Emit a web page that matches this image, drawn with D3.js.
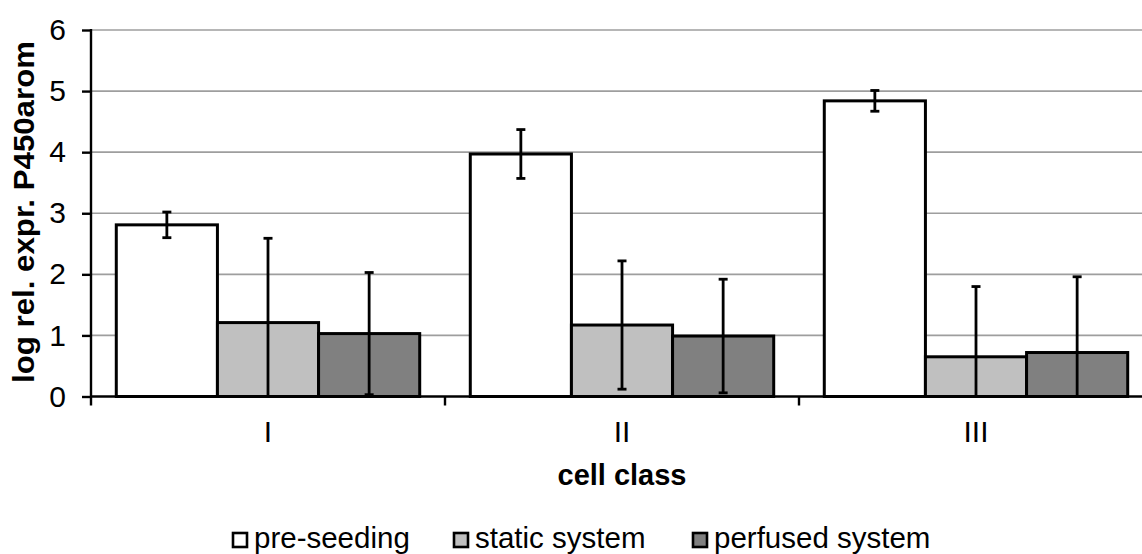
<!DOCTYPE html>
<html>
<head>
<meta charset="utf-8">
<script src="https://cdn.jsdelivr.net/npm/d3@7"></script>
<style>
  html, body { margin: 0; padding: 0; background: #fff; }
  svg { display: block; font-family: "Liberation Sans", Arial, sans-serif; }
</style>
</head>
<body>
<svg id="chart" width="1142" height="554"></svg>
<script>
const categories = ["I", "II", "III"];
const seriesNames = ["pre-seeding", "static system", "perfused system"];
const preSeeding = [2.81, 3.97, 4.84];
const preSeedingErr = [0.21, 0.40, 0.17];
const staticSystem = [1.21, 1.17, 0.65];
const staticSystemErr = [1.38, 1.05, 1.15];
const perfusedSystem = [1.03, 0.99, 0.72];
const perfusedSystemErr = [1.00, 0.93, 1.24];
const yTicks = [0, 1, 2, 3, 4, 5, 6];
const colors = ["#ffffff", "#c0c0c0", "#808080"];

const values = [preSeeding, staticSystem, perfusedSystem];
const errors = [preSeedingErr, staticSystemErr, perfusedSystemErr];

const svg = d3.select("#chart");
const plotLeft = 91, plotRight = 1153, plotTop = 30, plotBottom = 396.5;

const y = d3.scaleLinear().domain([0, 6]).range([plotBottom, plotTop]);
const x0 = d3.scaleBand().domain(categories).range([plotLeft, plotRight]).padding(0);
const x1 = d3.scaleBand().domain(seriesNames).range([0, x0.bandwidth()]).paddingInner(0).paddingOuter(0.25);

// gridlines
svg.append("g").selectAll("line").data(yTicks.filter(t => t > 0)).join("line")
  .attr("x1", plotLeft).attr("x2", 1142)
  .attr("y1", d => y(d)).attr("y2", d => y(d))
  .attr("stroke", "#9e9e9e").attr("stroke-width", 1.6);

// bars
const rows = [];
categories.forEach((c, i) => {
  seriesNames.forEach((s, j) => {
    rows.push({cat: c, s, j, v: values[j][i], e: errors[j][i]});
  });
});

svg.append("g").selectAll("rect").data(rows).join("rect")
  .attr("x", d => x0(d.cat) + x1(d.s))
  .attr("y", d => y(d.v))
  .attr("width", x1.bandwidth())
  .attr("height", d => y(0) - y(d.v))
  .attr("fill", d => colors[d.j])
  .attr("stroke", "#000").attr("stroke-width", 3);

// error bars
const eg = svg.append("g").attr("stroke", "#000").attr("stroke-width", 2.8);
rows.forEach(d => {
  const cx = x0(d.cat) + x1(d.s) + x1.bandwidth() / 2;
  const lo = Math.max(0, d.v - d.e), hi = d.v + d.e;
  eg.append("line").attr("x1", cx).attr("x2", cx).attr("y1", y(lo)).attr("y2", y(hi));
  eg.append("line").attr("x1", cx - 4.5).attr("x2", cx + 4.5).attr("y1", y(hi)).attr("y2", y(hi));
  if (d.v - d.e >= 0) {
    eg.append("line").attr("x1", cx - 4.5).attr("x2", cx + 4.5).attr("y1", y(lo)).attr("y2", y(lo));
  }
});

// y axis
const yAxis = d3.axisLeft(y).tickValues(yTicks).tickSize(9).tickPadding(16).tickFormat(d3.format("d"));
const ya = svg.append("g").attr("transform", `translate(${plotLeft},0)`).call(yAxis);
ya.select(".domain").remove();
ya.selectAll(".tick line").attr("stroke", "#000").attr("stroke-width", 2.4);
ya.selectAll(".tick text").attr("font-size", 30).attr("fill", "#000").attr("font-family", "Liberation Sans, Arial, sans-serif");
svg.append("line").attr("x1", plotLeft).attr("x2", plotLeft).attr("y1", plotTop - 1).attr("y2", plotBottom + 9)
  .attr("stroke", "#000").attr("stroke-width", 2.4);

// x axis
svg.append("line").attr("x1", plotLeft).attr("x2", 1142).attr("y1", plotBottom).attr("y2", plotBottom)
  .attr("stroke", "#000").attr("stroke-width", 2.4);
svg.append("g").selectAll("line").data(categories.slice(1)).join("line")
  .attr("x1", d => x0(d)).attr("x2", d => x0(d))
  .attr("y1", plotBottom).attr("y2", plotBottom + 9)
  .attr("stroke", "#000").attr("stroke-width", 2.4);
svg.append("g").selectAll("text").data(categories).join("text")
  .attr("x", d => x0(d) + x0.bandwidth() / 2)
  .attr("y", 442)
  .attr("text-anchor", "middle")
  .attr("font-size", 30)
  .text(d => d);

// axis titles
svg.append("text").attr("x", 622).attr("y", 485).attr("text-anchor", "middle")
  .attr("font-size", 29).attr("font-weight", "bold").text("cell class");
svg.append("text").attr("transform", "translate(34,212) rotate(-90)")
  .attr("text-anchor", "middle").attr("font-size", 30).attr("font-weight", "bold")
  .attr("textLength", 342).attr("lengthAdjust", "spacingAndGlyphs")
  .text("log rel. expr. P450arom");

// legend
const legendX = [232, 453, 692];
const lg = svg.append("g");
seriesNames.forEach((s, j) => {
  lg.append("rect").attr("x", legendX[j] + 1).attr("y", 533).attr("width", 14).attr("height", 14)
    .attr("fill", colors[j]).attr("stroke", "#000").attr("stroke-width", 2.6);
  lg.append("text").attr("x", legendX[j] + 22).attr("y", 548).attr("font-size", 29.5).text(s);
});
</script>
</body>
</html>
